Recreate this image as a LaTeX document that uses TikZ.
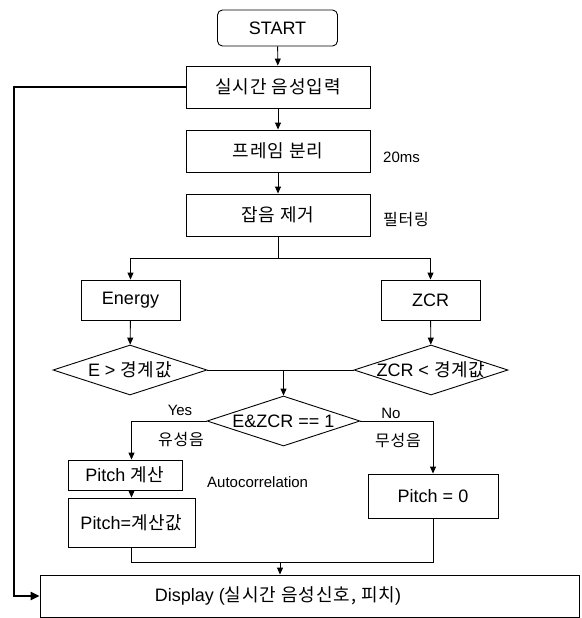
\documentclass[tikz,border=0pt]{standalone}
\usepackage{fontspec}
\setmainfont{Liberation Sans}
\newfontfamily\kr{Noto Sans CJK KR}[LetterSpace=5]
\usetikzlibrary{shapes.geometric,arrows.meta}
\begin{document}
\begin{tikzpicture}[x=1pt,y=-1pt,
    box/.style={draw,line width=0.9pt,inner sep=0pt,font=\fontsize{18}{21}\selectfont},
    decision/.style={draw,diamond,line width=0.9pt,inner sep=0pt,minimum width=154pt,minimum height=50pt},
    dtext/.style={inner sep=0pt,font=\fontsize{18}{21}\selectfont},
    note/.style={inner sep=0pt,font=\fontsize{15}{18}\selectfont},
    knote/.style={inner sep=0pt,font=\fontsize{16}{19}\selectfont\kr},
    line/.style={line width=0.9pt},
    arr/.style={line width=0.9pt,-{Triangle[length=7pt,width=6pt]}},
    fb/.style={line width=2.2pt,-{Triangle[length=9pt,width=8pt]}}]
\useasboundingbox (0,0) rectangle (581,618);
% main column
\node[box,rounded corners=5pt,minimum width=120pt,minimum height=36pt] (start) at (277.5,28) {START};
\node[box,minimum width=184pt,minimum height=42pt] (input) at (278,87) {\kr 실시간 음성입력};
\node[box,minimum width=184pt,minimum height=42pt] (frame) at (278,151) {\kr 프레임 분리};
\node[box,minimum width=184pt,minimum height=42pt] (noise) at (278,215) {\kr 잡음 제거};
\node[note,anchor=west] (ms) at (383,157) {20ms};
\node[knote,anchor=west] (filter) at (383,220) {필터링};
% energy / zcr
\node[box,minimum width=99pt,minimum height=40pt] (energy) at (130.5,300) {Energy};
\node[box,minimum width=99pt,minimum height=40pt] (zcr) at (430.5,300) {ZCR};
\node[decision,label={[dtext]center:{E > {\kr 경계값}}}] (ethr) at (130,370) {};
\node[decision,label={[dtext]center:{ZCR < {\kr 경계값}}}] (zthr) at (431,370) {};
\node[decision,minimum width=153pt,label={[dtext]center:{E\&ZCR == 1}}] (both) at (283.5,421) {};
\node[note] (yes) at (180,410) {Yes};
\node[note] (no) at (391,413) {No};
\node[knote] (voiced) at (181,440) {유성음};
\node[knote] (unvoiced) at (398,440) {무성음};
% pitch
\node[box,minimum width=114pt,minimum height=30pt] (pcalc) at (125,475) {Pitch {\kr 계산}};
\node[note,anchor=west] (auto) at (207,482) {Autocorrelation};
\node[box,minimum width=127pt,minimum height=49pt] (pval) at (131.5,522.5) {Pitch={\kr 계산값}};
\node[box,minimum width=130pt,minimum height=44pt] (pzero) at (433,496) {Pitch = 0};
% display
\node[box,minimum width=539pt,minimum height=42pt] (disp) at (309.5,596) {};
\node[dtext] (disptext) at (278,596) {Display ({\kr 실시간 음성신호, 피치})};
% connectors
\coordinate (split) at (278,258);
\coordinate (join) at (280,562);
\coordinate (fbtop) at (14,87);
\draw[arr] (start) -- (input);
\draw[arr] (input) -- (frame);
\draw[arr] (frame) -- (noise);
\draw[line] (noise) -- (split);
\draw[arr] (split) -| (energy);
\draw[arr] (split) -| (zcr);
\draw[arr] (energy) -- (ethr);
\draw[arr] (zcr) -- (zthr);
\draw[line] (ethr.east) -- (zthr.west);
\draw[arr] (both.north |- ethr.east) -- (both.north);
\draw[arr] (both.west) -| (pcalc.north -| pval.north);
\draw[arr] (pcalc.south -| pval.north) -- (pval.north);
\draw[arr] (both.east) -| (pzero.north);
\draw[line] (pval.south) |- (pzero.south |- join) -- (pzero.south);
\draw[arr] (join) -- (join |- disp.north);
\draw[fb] (input.west) -- (fbtop) |- (disp.west);
\end{tikzpicture}
\end{document}
